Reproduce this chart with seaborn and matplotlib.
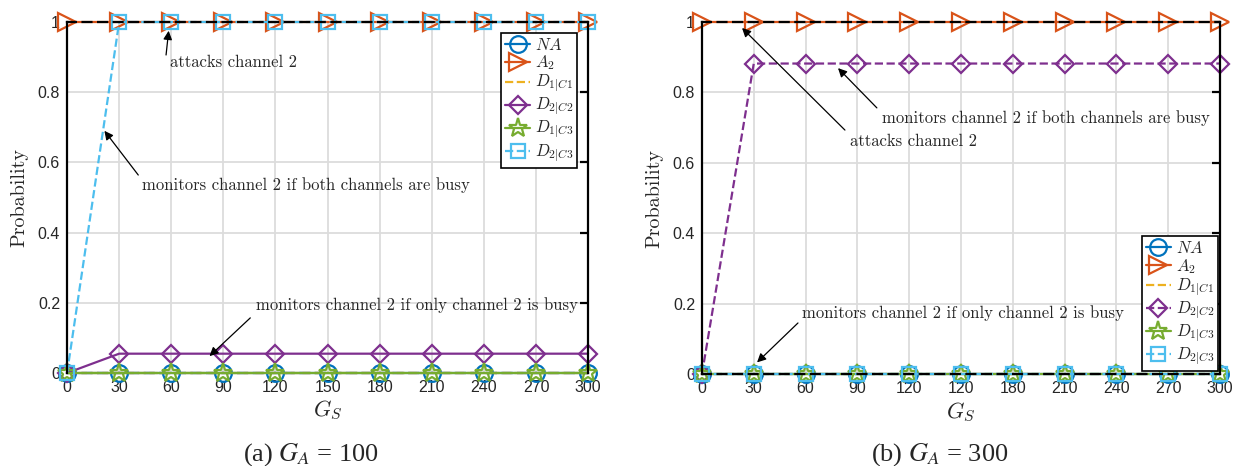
import numpy as np
import pandas as pd
import seaborn as sns
import matplotlib.pyplot as plt

sns.set_style("white")
plt.rcParams['font.family'] = ['Liberation Sans', 'DejaVu Sans']
plt.rcParams['mathtext.fontset'] = 'cm'

# G_S values on the x axis
gs = [0, 30, 60, 90, 120, 150, 180, 210, 240, 270, 300]
xlabels_a = ['0', '30', '60', '90', '120', '150', '180', '210', '240', '270', '300']
xlabels_b = ['0', '30', '60', '90', '120', '120', '180', '210', '240', '270', '300']

# panel (a): G_A = 100
a_na = [0, 0, 0, 0, 0, 0, 0, 0, 0, 0, 0]
a_a2 = [1, 1, 1, 1, 1, 1, 1, 1, 1, 1, 1]
a_d1c1 = [0, 0, 0, 0, 0, 0, 0, 0, 0, 0, 0]
a_d2c2 = [0, 0.055, 0.055, 0.055, 0.055, 0.055, 0.055, 0.055, 0.055, 0.055, 0.055]
a_d1c3 = [0, 0, 0, 0, 0, 0, 0, 0, 0, 0, 0]
a_d2c3 = [0, 1, 1, 1, 1, 1, 1, 1, 1, 1, 1]

# panel (b): G_A = 300
b_na = [0, 0, 0, 0, 0, 0, 0, 0, 0, 0, 0]
b_a2 = [1, 1, 1, 1, 1, 1, 1, 1, 1, 1, 1]
b_d1c1 = [0, 0, 0, 0, 0, 0, 0, 0, 0, 0, 0]
b_d2c2 = [0, 0.882, 0.882, 0.882, 0.882, 0.882, 0.882, 0.882, 0.882, 0.882, 0.882]
b_d1c3 = [0, 0, 0, 0, 0, 0, 0, 0, 0, 0, 0]
b_d2c3 = [0, 0, 0, 0, 0, 0, 0, 0, 0, 0, 0]

labels = ['$NA$', '$A_2$', '$D_{1|C1}$', '$D_{2|C2}$', '$D_{1|C3}$', '$D_{2|C3}$']
colors = ['#0072BD', '#D95319', '#EDB120', '#7E2F8E', '#77AC30', '#4DBEEE']
markers = ['o', '>', None, 'D', '*', 's']
msizes = [12, 13, 0, 9.5, 14, 10]

# annotations: (text, text pos, arrow tail, arrow tip)
notes_a = [
    ('attacks channel 2', (59, 0.886), (57, 0.906), (58.5, 0.975)),
    ('monitors channel 2 if both channels are busy', (43, 0.536), (41, 0.564), (21.5, 0.69)),
    ('monitors channel 2 if only channel 2 is busy', (109, 0.194), (105.5, 0.157), (82, 0.048)),
]
notes_b = [
    ('monitors channel 2 if both channels are busy', (104, 0.727), (101.3, 0.756), (78.8, 0.869)),
    ('attacks channel 2', (85.7, 0.662), (82.8, 0.693), (23.2, 0.983)),
    ('monitors channel 2 if only channel 2 is busy', (58, 0.173), (55.6, 0.145), (31.9, 0.033)),
]

fig = plt.figure(figsize=(12.35, 4.66), dpi=100)
ax1 = fig.add_axes([0.0543, 0.1996, 0.4219, 0.7532])
ax2 = fig.add_axes([0.5684, 0.1974, 0.4194, 0.7554])


def draw(ax, series, styles, xlabels, notes, leg_anchor, caption, cap_x, bottom_over):
    for vals, lab, col, mk, ms, ls in zip(series, labels, colors, markers, msizes, styles):
        sns.lineplot(x=gs, y=vals, ax=ax, color=col, marker=mk, linestyle=ls,
                     markersize=ms, markerfacecolor='none', markeredgecolor=col,
                     markeredgewidth=1.6, linewidth=1.6, label=lab, clip_on=False)
    ax.set_xlim(0, 300)
    ax.set_ylim(0, 1)
    ax.set_xticks(gs)
    ax.set_xticklabels(xlabels)
    ax.set_yticks([0, 0.2, 0.4, 0.6, 0.8, 1])
    ax.set_yticklabels(['0', '0.2', '0.4', '0.6', '0.8', '1'])
    ax.grid(True, color='#dcdcdc', linewidth=1.3)
    ax.tick_params(axis='y', direction='in', length=6, width=1.6, right=True,
                   labelsize=11.5, colors='black', labelcolor='#262626', pad=5)
    ax.tick_params(axis='x', length=0, labelsize=11.5, labelcolor='#262626', pad=5)
    for s in ['left', 'right']:
        ax.spines[s].set_color('black')
        ax.spines[s].set_linewidth(1.6)
        ax.spines[s].set_zorder(3)
    for s in ['top', 'bottom']:
        ax.spines[s].set_color('black')
        ax.spines[s].set_linewidth(1.6)
        ax.spines[s].set_linestyle((0, (4, 3)))
    ax.spines['top'].set_zorder(3)
    ax.spines['bottom'].set_zorder(3 if bottom_over else 1)
    ax.set_xlabel('$G_S$', fontsize=16, va='center')
    ax.xaxis.set_label_coords(0.5, -0.108)
    ax.set_ylabel('Probability', fontsize=14.5, family='cmr10', va='center')
    ax.yaxis.set_label_coords(-0.092, 0.5)
    for txt, tpos, tail, tip in notes:
        ax.text(tpos[0], tpos[1], txt, family='cmr10', fontsize=12, ha='left', va='center')
        ax.annotate('', xy=tip, xytext=tail,
                    arrowprops=dict(arrowstyle='-|>', color='black', lw=0.9,
                                    mutation_scale=13, shrinkA=0, shrinkB=0))
    leg = ax.legend(loc='upper right', bbox_to_anchor=leg_anchor, borderaxespad=0,
                    fancybox=False, edgecolor='black', framealpha=1, fontsize=12,
                    handlelength=1.5, handletextpad=0.3, labelspacing=0.06,
                    borderpad=0.22)
    leg.get_frame().set_linewidth(1.2)
    fig.text(cap_x, 0.024, caption, ha='center', va='center',
             family='Liberation Serif', fontsize=19, math_fontfamily='stix')


draw(ax1, [a_na, a_a2, a_d1c1, a_d2c2, a_d1c3, a_d2c3],
     ['-', '-', '--', '-', '-', '--'], xlabels_a, notes_a, (0.979, 0.969),
     '(a) $G_A$ = 100', 311 / 1235, False)
draw(ax2, [b_na, b_a2, b_d1c1, b_d2c2, b_d1c3, b_d2c3],
     ['-', '-', '--', '--', '-', '--'], xlabels_b, notes_b, (0.996, 0.392),
     '(b) $G_A$ = 300', 940 / 1235, True)

fig.savefig('out.png', dpi=100)
